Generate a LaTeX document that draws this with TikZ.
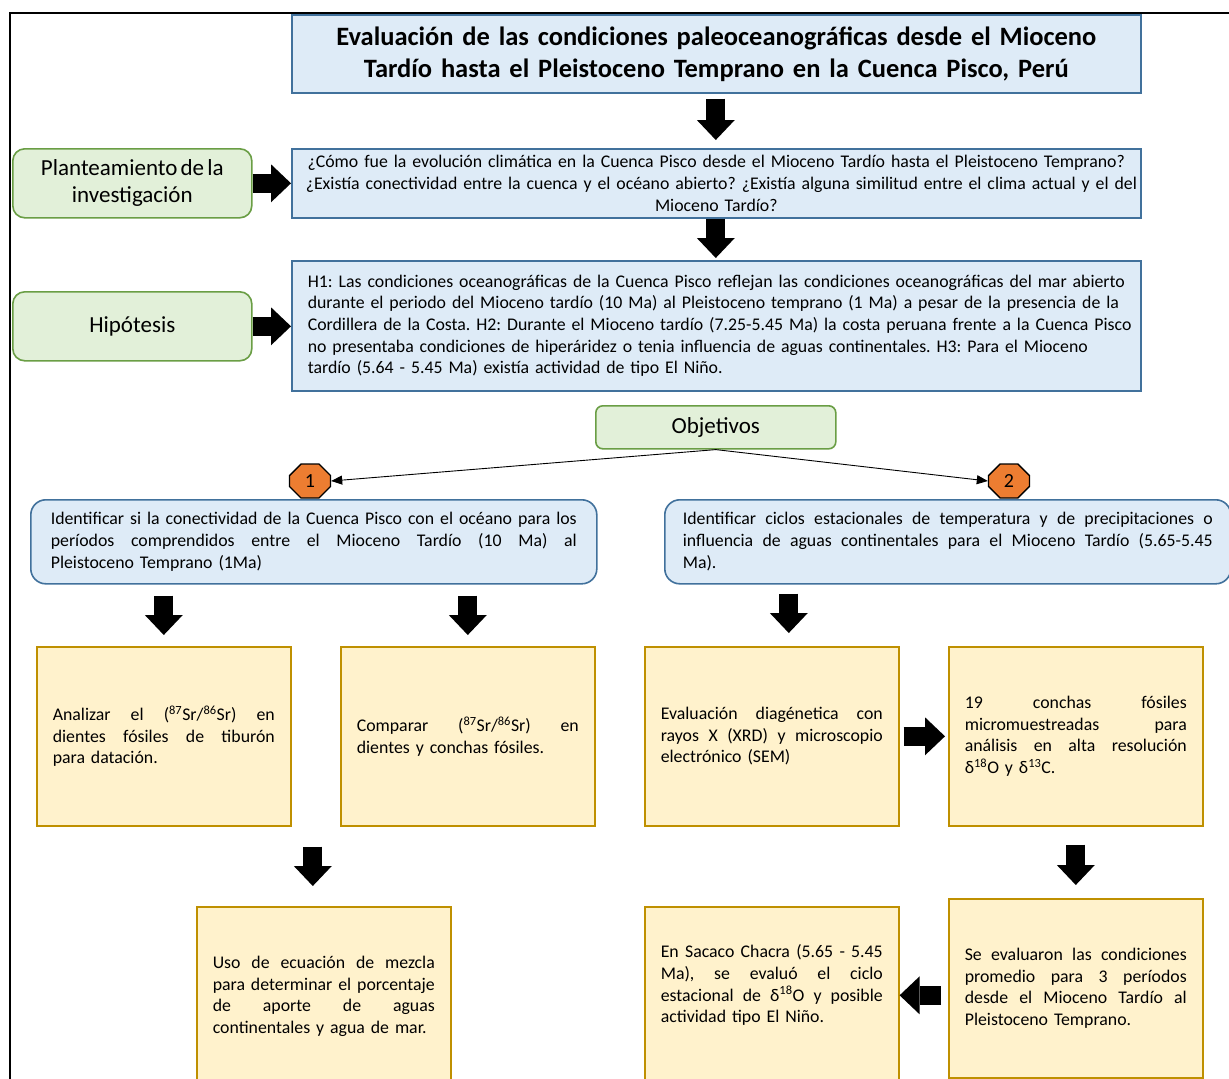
\documentclass[tikz,border=0pt]{standalone}
\usepackage{fontspec}
\setmainfont{Carlito}[WordSpace=0.6]
\usetikzlibrary{arrows.meta,shapes.misc,calc}
\setlength{\parindent}{0pt}
\setlength{\parskip}{0pt}
\frenchspacing
\newcommand\jl[1]{\hbox to \hsize{\spaceskip=\fontdimen2\font plus 1fil minus \fontdimen4\font\relax #1}}
\newcommand\bodyfont{\fontsize{17.8}{21.7}\selectfont}
\newcommand\titlefont{\fontsize{26.5}{32}\selectfont\bfseries}
\newcommand\greenfont{\fontsize{23}{27}\selectfont}
\newcommand\supr[1]{\textsuperscript{#1}}
\definecolor{bfill}{HTML}{DEEBF7}
\definecolor{bbord}{HTML}{41719C}
\definecolor{gfill}{HTML}{E2F0D9}
\definecolor{gbord}{HTML}{6A9E45}
\definecolor{yfill}{HTML}{FFF2CC}
\definecolor{ybord}{HTML}{BF9000}
\definecolor{ofill}{HTML}{ED7D31}
\begin{document}
\begin{tikzpicture}[x=1pt,y=-1pt,
  bbox/.style={draw=bbord, fill=bfill, line width=1.6pt, anchor=north west, font=\bodyfont},
  gbox/.style={draw=gbord, fill=gfill, line width=1.6pt, anchor=north west, rounded corners=12pt, align=center, font=\greenfont},
  ybox/.style={draw=ybord, fill=yfill, line width=1.6pt, anchor=north west, text width=222pt, inner xsep=16pt, minimum height=179pt, align=left, font=\bodyfont},
  octa/.style={chamfered rectangle, draw=black, fill=ofill, line width=1.4pt, inner sep=0pt, minimum width=41pt, minimum height=34pt, chamfered rectangle xsep=10pt, chamfered rectangle ysep=10pt, font=\fontsize{20}{22}\selectfont},
  blockarrow/.style={line width=19pt, black, -{Triangle[length=20pt,width=38pt,line width=0pt]}},
  thinarrow/.style={line width=0.9pt, black, -{Triangle[length=11pt,width=9pt]}}
]
\useasboundingbox (0,0) rectangle (1229,1079);
\fill[white] (0,0) rectangle (1229,1079);
\draw[line width=2pt] (1229,13) -- (10,13) -- (10,1079);

\node[bbox, minimum width=849pt, minimum height=78pt, text width=760pt, inner xsep=44.5pt, align=center, font=\titlefont] (title) at (291,14)
  {\jl{Evaluación de las condiciones paleoceanográficas desde el Mioceno}
   Tardío hasta el Pleistoceno Temprano en la Cuenca Pisco, Perú};

\node[bbox, minimum width=849pt, minimum height=69pt, text width=821pt, inner xsep=14pt, align=center] (quest) at (291,148)
  {\mbox{¿Cómo fue la evolución climática en la Cuenca Pisco desde el Mioceno Tardío hasta el Pleistoceno Temprano?}\\
   \mbox{¿Existía conectividad entre la cuenca y el océano abierto? ¿Existía alguna similitud entre el clima actual y el del}\\
   Mioceno Tardío?};

\node[bbox, minimum width=849pt, minimum height=130pt, text width=817pt, inner xsep=16pt, align=left] (hypo) at (291,260)
  {\mbox{H1: Las condiciones oceanográficas de la Cuenca Pisco reflejan las condiciones oceanográficas del mar abierto}\\
   \mbox{durante el periodo del Mioceno tardío (10 Ma) al Pleistoceno temprano (1 Ma) a pesar de la presencia de la}\\
   \mbox{Cordillera de la Costa. H2: Durante el Mioceno tardío (7.25-5.45 Ma) la costa peruana frente a la Cuenca Pisco}\\
   \mbox{no presentaba condiciones de hiperáridez o tenia influencia de aguas continentales. H3: Para el Mioceno}\\
   \mbox{tardío (5.64 - 5.45 Ma) existía actividad de tipo El Niño.}};

\node[gbox, minimum width=239pt, minimum height=69pt] (plant) at (12,148) {Planteamiento de la\\investigación};
\node[gbox, minimum width=239pt, minimum height=69pt] (hipo) at (12,291) {Hipótesis};
\node[gbox, rounded corners=7pt, minimum width=240pt, minimum height=43pt] (objt) at (595,405) {Objetivos};

\node[octa] (oct1) at (310,481) {1};
\node[octa] (oct2) at (1009,481) {2};

\node[bbox, rounded corners=15pt, minimum height=84pt, text width=526pt, inner xsep=20pt, align=left, font=\fontsize{17.8}{22}\selectfont] (obj1) at (30,499)
  {\jl{Identificar si la conectividad de la Cuenca Pisco con el océano para los}
   \jl{períodos comprendidos entre el Mioceno Tardío (10 Ma) al}
   Pleistoceno Temprano (1Ma)};
\node[bbox, rounded corners=15pt, minimum height=84pt, text width=530pt, inner xsep=18pt, align=left, font=\fontsize{17.8}{22}\selectfont] (obj2) at (664,499)
  {\jl{Identificar ciclos estacionales de temperatura y de precipitaciones o}
   \jl{influencia de aguas continentales para el Mioceno Tardío (5.65-5.45}
   Ma).};

\node[ybox] (ya) at (36,646)
  {\jl{Analizar el (\supr{87}Sr/\supr{86}Sr) en}
   \jl{dientes fósiles de tiburón}
   para datación.};
\node[ybox] (yb) at (340,646)
  {\jl{Comparar (\supr{87}Sr/\supr{86}Sr) en}
   dientes y conchas fósiles.};
\node[ybox] (yc) at (644,646)
  {\jl{Evaluación diagénetica con}
   \jl{rayos X (XRD) y microscopio}
   electrónico (SEM)};
\node[ybox] (yd) at (948,646)
  {\jl{19 conchas fósiles}
   \jl{micromuestreadas para}
   \jl{análisis en alta resolución}
   δ\supr{18}O y δ\supr{13}C.};
\node[ybox] (ye) at (196,906)
  {\jl{Uso de ecuación de mezcla}
   \jl{para determinar el porcentaje}
   \jl{de aporte de aguas}
   continentales y agua de mar.};
\node[ybox] (yf) at (948,898)
  {\jl{Se evaluaron las condiciones}
   \jl{promedio para 3 períodos}
   \jl{desde el Mioceno Tardío al}
   Pleistoceno Temprano.};
\node[ybox, text depth=90pt] (yg) at (644,906)
  {\jl{En Sacaco Chacra (5.65 - 5.45}
   \jl{Ma), se evaluó el ciclo}
   \jl{estacional de δ\supr{18}O y posible}
   actividad tipo El Niño.};

% block arrows
\draw[blockarrow, shorten <=5pt, shorten >=8pt] (title.south -| objt.north) -- (quest.north -| objt.north);
\draw[blockarrow, shorten >=2pt] (quest.south -| objt.north) -- (hypo.north -| objt.north);
\draw[blockarrow] (plant.east) -- (plant.east -| quest.west);
\draw[blockarrow] (hipo.east) -- (hipo.east -| hypo.west);
\draw[blockarrow, shorten <=11pt, shorten >=11pt] (ya.north |- obj1.south) -- (ya.north);
\draw[blockarrow, shorten <=11pt, shorten >=11pt] (yb.north |- obj1.south) -- (yb.north);
\draw[blockarrow, shorten <=9pt, shorten >=13pt] ($(yc.north |- obj2.south)+(17,0)$) -- ($(yc.north)+(17,0)$);
\draw[blockarrow, shorten <=4pt, shorten >=3pt] (yc.east) -- (yd.west);
\draw[blockarrow, shorten <=20pt, shorten >=20pt] ($(ya.south)+(149,0)$) -- ($(ye.north)+(-11,0)$);
\draw[blockarrow, shorten <=18pt, shorten >=13pt] (yd.south) -- (yf.north);
\draw[blockarrow, shorten <=7pt, shorten >=0pt] ($(yf.west)+(0,7)$) -- ($(yf.west -| yg.east)+(0,7)$);

% thin arrows
\draw[thinarrow] (objt.south) -- (oct1.east);
\draw[thinarrow] (objt.south) -- (oct2.west);
\end{tikzpicture}
\end{document}
